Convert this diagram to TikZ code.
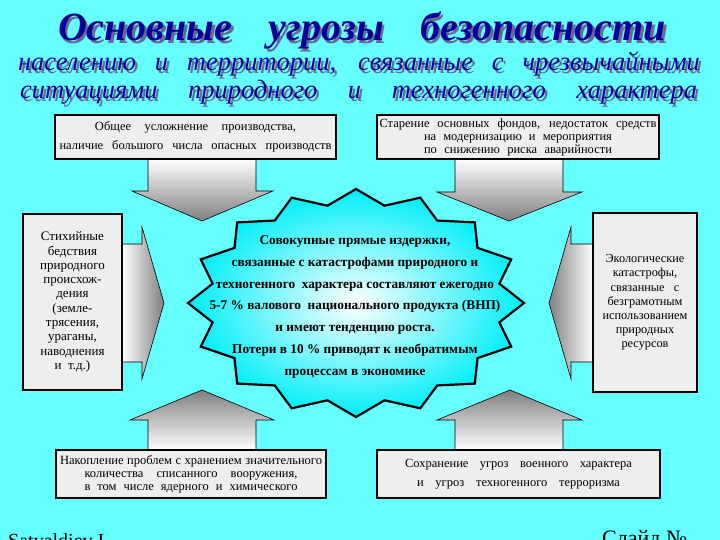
\documentclass[tikz,border=0pt]{standalone}
\usepackage{fontspec}
\setmainfont{Liberation Serif}
\definecolor{bg}{RGB}{102,255,255}
\definecolor{boxfill}{RGB}{238,238,238}
\definecolor{titleblue}{RGB}{0,0,150}
\definecolor{tshadow}{RGB}{105,105,150}
\definecolor{starcyan}{RGB}{0,238,248}
\definecolor{arrowgray}{RGB}{128,128,128}
\newcommand\spreadln[2]{\makebox[#1pt][s]{#2}}
\newcommand\shadowed[2]{\makebox[0pt][l]{\hspace{2.5pt}\raisebox{-2.5pt}{\color{tshadow}\spreadln{#1}{#2}}}\spreadln{#1}{#2}}
\begin{document}
\begin{tikzpicture}[x=1pt,y=-1pt,
  box/.style={draw=black, line width=1.6pt, fill=boxfill, inner sep=0pt, align=center},
  blockarrow/.style={draw=black, line width=0.6pt},
  boxtext/.style={font=\fontsize{12.5}{14}\selectfont},
  titletext/.style={anchor=base, text=titleblue, font=\bfseries\itshape\fontsize{40}{40}\selectfont},
  subtext/.style={anchor=base, text=titleblue, font=\itshape\fontsize{26.5}{26.5}\selectfont},
  seal/.style={draw=black, line width=2.2pt, line join=miter, inner color=white, outer color=starcyan}
]
\useasboundingbox (0,0) rectangle (720,540);
\clip (0,0) rectangle (720,540);
\fill[bg] (0,0) rectangle (720,540);

% titles with shadow
\node[titletext] (title) at (362,41) {\shadowed{608}{Основные угрозы безопасности}};
\node[subtext] (sub1) at (359,71) {\shadowed{682}{населению и территории, связанные с чрезвычайными}};
\node[subtext] (sub2) at (358.5,99) {\shadowed{677}{ситуациями природного и техногенного характера}};

% block arrows
\draw[blockarrow, top color=white, bottom color=arrowgray]
  (148,158) -- (256,158) -- (256,191) -- (273,191) -- (202,221) -- (132,191) -- (148,191) -- cycle;
\draw[blockarrow, top color=white, bottom color=arrowgray]
  (455,158) -- (563,158) -- (563,192) -- (582,192) -- (509,221) -- (437,192) -- (455,192) -- cycle;
\draw[blockarrow, top color=arrowgray, bottom color=white]
  (148,450) -- (148,420) -- (130,420) -- (202,390) -- (274,420) -- (256,420) -- (256,450) -- cycle;
\draw[blockarrow, top color=arrowgray, bottom color=white]
  (455,450) -- (455,420) -- (437,420) -- (510,390) -- (582,420) -- (563,420) -- (563,450) -- cycle;
\draw[blockarrow, left color=white, right color=arrowgray]
  (122,244) -- (142,244) -- (142,227) -- (164,303) -- (142,379) -- (142,362) -- (122,362) -- cycle;
\draw[blockarrow, left color=arrowgray, right color=white]
  (593,244) -- (571,244) -- (571,227) -- (549,303) -- (571,379) -- (571,362) -- (593,362) -- cycle;

% central seal
\draw[seal] (524,303) \foreach \i in {1,...,31} {
  -- ({356+168*(isodd(\i)?0.87:1)*cos(\i*11.25)}, {303+114*(isodd(\i)?0.87:1)*sin(\i*11.25)}) } -- cycle;
\node[font=\bfseries\fontsize{13.3}{21.7}\selectfont, align=center] (startext) at (355,307)
  {Совокупные прямые издержки,\\
   связанные с катастрофами природного и\\
   техногенного\ \ характера составляют ежегодно\\
   5-7 \% валового\ \ национального продукта (ВНП)\\
   и имеют тенденцию роста.\\
   Потери в 10 \% приводят к необратимым\\
   процессам в экономике};

% boxes
\node[box, boxtext, minimum width=281pt, minimum height=44pt] (tl) at (195.5,137)
  {\spreadln{201}{Общее усложнение производства,}\\[5pt]
   \spreadln{272}{наличие большого числа опасных производств}};
\node[box, boxtext, minimum width=282pt, minimum height=44pt] (tr) at (518,137)
  {\spreadln{277}{Старение основных фондов, недостаток средств}\\[-1pt]
   \spreadln{188}{на модернизацию и мероприятия}\\[-1pt]
   \spreadln{188}{по снижению риска аварийности}};
\node[box, minimum width=99pt, minimum height=176pt, font=\fontsize{13}{14.3}\selectfont] (lft) at (72.5,302)
  {Стихийные\\бедствия\\природного\\происхож-\\дения\\(земле-\\трясения,\\ураганы,\\наводнения\\и\ \ т.д.)};
\node[box, minimum width=104pt, minimum height=179pt, font=\fontsize{12.3}{14.2}\selectfont] (rgt) at (645,302.5)
  {Экологические\\катастрофы,\\связанные\ \ \ с\\безграмотным\\использованием\\природных\\ресурсов};
\node[box, boxtext, minimum width=270pt, minimum height=48pt] (bl) at (191,474)
  {\spreadln{262}{Накопление проблем с хранением значительного}\\[-1pt]
   \spreadln{213}{количества списанного вооружения,}\\[-1pt]
   \spreadln{213}{в том числе ядерного и химического}};
\node[box, boxtext, minimum width=283pt, minimum height=48pt] (br) at (518.5,474)
  {\spreadln{227}{Сохранение угроз военного характера}\\[5pt]
   \spreadln{203}{и угроз техногенного терроризма}};

% footer (cut at page edge)
\node[anchor=base west, inner sep=0pt, font=\fontsize{20}{20}\selectfont] (author) at (8,547) {Satvaldiev I.};
\node[anchor=base west, inner sep=0pt, font=\fontsize{22}{22}\selectfont] (slide) at (602,545) {Слайд №};
\end{tikzpicture}
\end{document}
